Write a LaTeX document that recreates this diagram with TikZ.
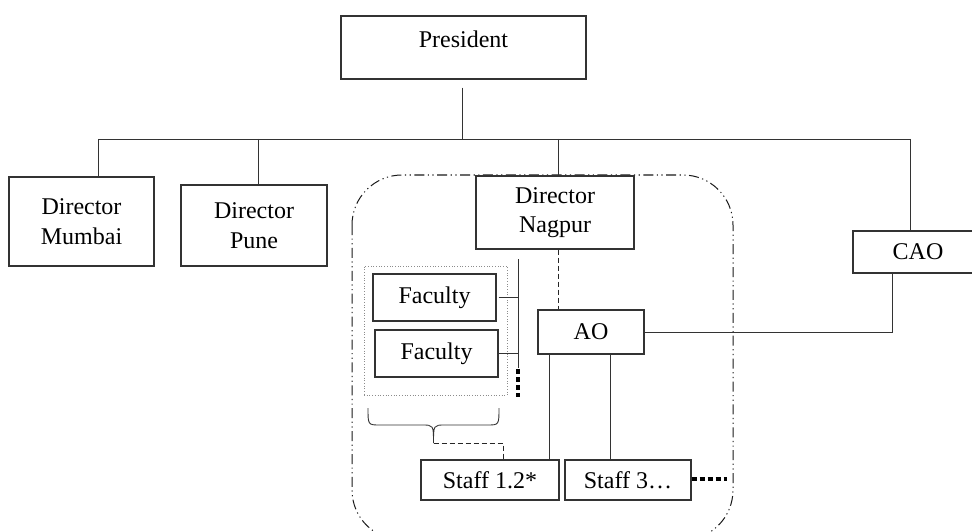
\documentclass[tikz,border=0pt]{standalone}
\usepackage{fontspec}
\setmainfont{Liberation Serif}
\usetikzlibrary{positioning}

\begin{document}
\begin{tikzpicture}[
    x=1pt, y=-1pt,
    font=\fontsize{24}{29.5}\selectfont,
    box/.style     ={rectangle, draw=black!80, fill=white, line width=1.1pt, inner sep=0pt, align=center},
    wire/.style    ={draw=black!80, line width=0.9pt},
    dwire/.style   ={draw=black!85, line width=0.9pt, dash pattern=on 5pt off 3pt},
    sqdots/.style  ={draw=black, line width=4pt, dash pattern=on 5pt off 3pt},
    grpbox/.style  ={rectangle, draw=black!45, line width=0.7pt, dotted, inner sep=0pt},
    unitbox/.style ={draw=black!90, line width=1pt, rounded corners=50pt,
                     dash pattern=on 10pt off 3.5pt on 1.2pt off 3.5pt on 1.2pt off 3.5pt}
  ]
    \useasboundingbox (0,0) rectangle (972,532);

    % --- Nagpur unit outline (drawn first, boxes sit on it) ---
    \draw[unitbox] (352,175) rectangle (733,540);

    % --- top level ---
    \node[box, minimum width=245pt, minimum height=63pt, text depth=16pt] (pres) at (463.5,47.5) {President};

    % bus and its drops
    \coordinate (dMum)  at (98,139);
    \coordinate (dPune) at (258,139);
    \coordinate (dNag)  at (558,139);
    \coordinate (busR)  at (910,139);

    \node[box, minimum width=145pt, minimum height=89pt] (mumbai) at (81.5,221.5) {Director\\Mumbai};
    \node[box, minimum width=146pt, minimum height=81pt] (pune)   at (254,225.5)  {Director\\Pune};
    \node[box, minimum width=158pt, minimum height=73pt] (nagpur) at (555,212.5)  {Director\\Nagpur};
    \node[box, minimum width=130pt, minimum height=42pt] (cao)    at (918,252)    {CAO};

    \draw[wire, shorten <=8pt] (pres.south -| 462,0) -- (462,139);
    \draw[wire] (dMum) -- (busR);
    \draw[wire] (dMum)  -- (dMum |- mumbai.north);
    \draw[wire] (dPune) -- (dPune |- pune.north);
    \draw[wire] (dNag)  -- (dNag |- nagpur.north);
    \draw[wire] (busR)  -- (busR |- cao.north);

    % --- inside Nagpur ---
    \node[box, minimum width=106pt, minimum height=44pt] (ao) at (591,332) {AO};
    \draw[dwire] (dNag |- nagpur.south) -- (dNag |- ao.north);
    \draw[wire] (ao.east) -| ([xshift=-26pt]cao.south);

    % faculty group
    \node[grpbox, minimum width=143pt, minimum height=129pt] (grp) at (435.5,330.5) {};
    \node[box, minimum width=123pt, minimum height=47pt] (fac1) at (434.5,297.5) {Faculty};
    \node[box, minimum width=123pt, minimum height=47pt] (fac2) at (436.5,353.5) {Faculty};

    \coordinate (facTop) at (518,259);
    \coordinate (facBot) at (518,368);
    \draw[wire] (facTop) -- (facBot);
    \draw[wire] ([xshift=2pt]fac1.east) -- (fac1.east -| facTop);
    \draw[wire] (fac2.east) -- (fac2.east -| facTop);
    \draw[sqdots] ([yshift=-1pt]facBot) -- ++(0,28);

    % staff
    \node[box, minimum width=138pt, minimum height=40pt] (staff1) at (490,480) {Staff 1.2*};
    \node[box, minimum width=126pt, minimum height=40pt] (staff3) at (628,480) {Staff 3…};

    \draw[wire] ([xshift=12pt]ao.south west) -- ([xshift=12pt]ao.south west |- staff1.north);
    \draw[wire] ([xshift=-18pt]staff3.north) -- ([xshift=-18pt]staff3.north |- ao.south);

    \coordinate (more) at (727,479);
    \draw[sqdots] (staff3.east |- more) -- (more);

    % brace under the faculty group
    \coordinate (braceTip) at (433.5,443);
    \draw[wire] (368,408) .. controls (368,425) and (368,425) .. (380,425)
      -- (422,425) .. controls (433.5,425) and (433.5,425) .. (braceTip)
      .. controls (433.5,425) and (433.5,425) .. (445,425)
      -- (487,425) .. controls (499,425) and (499,425) .. (499,408);
    \draw[dwire] (braceTip) -| ([xshift=13pt]staff1.north);
\end{tikzpicture}
\end{document}
